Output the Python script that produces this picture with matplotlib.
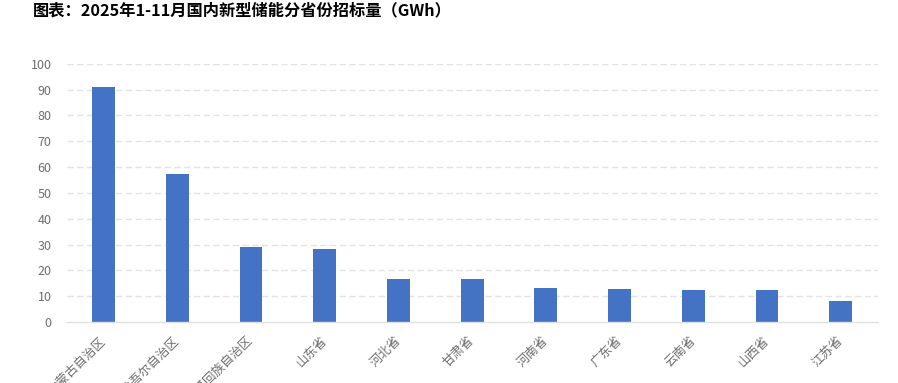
import matplotlib
matplotlib.use("Agg")
import matplotlib.pyplot as plt

plt.rcParams['font.family'] = ['Noto Sans CJK SC', 'DejaVu Sans']

title = "图表：2025年1-11月国内新型储能分省份招标量（GWh）"
provinces = ["内蒙古自治区", "新疆维吾尔自治区", "宁夏回族自治区", "山东省", "河北省",
             "甘肃省", "河南省", "广东省", "云南省", "山西省", "江苏省"]
values = [91.0, 57.2, 29.0, 28.1, 16.6, 16.5, 13.0, 12.6, 12.5, 12.2, 8.3]
yticks = [0, 10, 20, 30, 40, 50, 60, 70, 80, 90, 100]

fig = plt.figure(figsize=(8.98, 3.83), dpi=100)
ax = fig.add_axes([66.7 / 898, 1 - 322 / 383, (877.6 - 66.7) / 898, (322 - 63.7) / 383])

x = list(range(len(provinces)))
ax.bar(x, values, width=0.31, color="#4472C4", zorder=3)

ax.set_xlim(-0.5, len(provinces) - 0.5)
ax.set_ylim(0, 100)
ax.set_yticks(yticks)
ax.set_yticklabels([str(v) for v in yticks], fontsize=9, color="#6E6E6E")
ax.tick_params(axis='y', length=0, pad=11)

for v in yticks[1:]:
    ax.axhline(v, color="#E3E3E3", linewidth=1, linestyle=(0, (4.5, 2.5)), zorder=1)

ax.set_xticks(x)
ax.set_xticklabels(provinces, rotation=45, ha='right', va='center',
                   rotation_mode='anchor', fontsize=9, color="#6E6E6E")
ax.tick_params(axis='x', length=0, pad=12)

for s in ['top', 'right', 'left']:
    ax.spines[s].set_visible(False)
ax.spines['bottom'].set_color("#E0E0E0")
ax.spines['bottom'].set_linewidth(1)
ax.spines['bottom'].set_zorder(4)

fig.text(33 / 898, 1 - 10 / 383, title, fontsize=11.7, fontweight='bold',
         color="#000000", ha='left', va='center')

fig.savefig("out.png", dpi=100)
